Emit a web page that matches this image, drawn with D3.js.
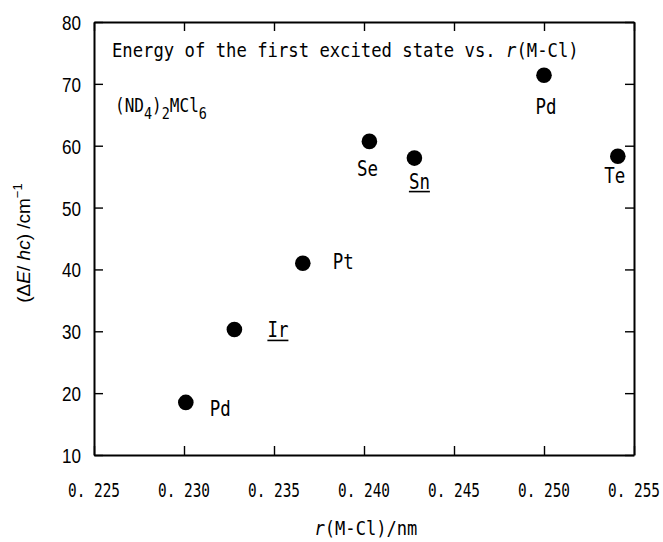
<!DOCTYPE html>
<html>
<head>
<meta charset="utf-8">
<script src="https://cdn.jsdelivr.net/npm/d3@7/dist/d3.min.js"></script>
<style>
  html, body { margin: 0; padding: 0; background: #fff; }
  svg { display: block; }
  .gothic { font-family: "DejaVu Sans Mono", monospace; fill: #000; }
  .arial { font-family: "Liberation Sans", Arial, sans-serif; fill: #000; }
  .axis path, .axis line { stroke: #000; }
</style>
</head>
<body>
<svg id="chart" width="663" height="542"></svg>
<script>
// Metal–chlorine distance vs. first excited-state energy for (ND4)2MCl6 salts
const metals     = ["Pd", "Ir", "Pt", "Se", "Sn", "Te", "Pd"];
const rMCl       = [0.2301, 0.2328, 0.2366, 0.2403, 0.2428, 0.2541, 0.2500];   // nm
const energy     = [18.5, 30.3, 41.0, 60.7, 58.0, 58.3, 71.4];                 // cm^-1
const underlined = [false, true, false, false, true, false, false];

const xTicks = [0.225, 0.230, 0.235, 0.240, 0.245, 0.250, 0.255];
const xTickLabels = ["0. 225", "0. 230", "0. 235", "0. 240", "0. 245", "0. 250", "0. 255"];
const yTicks = [10, 20, 30, 40, 50, 60, 70, 80];

// label placement relative to each marker: [dx, dy, anchor]
const labelPlacement = [
  [24, 13.5, "start"],
  [33, 8, "start"],
  [30, 5.5, "start"],
  [-2, 35, "middle"],
  [5, 30.5, "middle"],
  [-3, 27, "middle"],
  [2, 39, "middle"]
];

const svg = d3.select("#chart");
const frame = { left: 94, right: 634, top: 22, bottom: 455 };

const x = d3.scaleLinear().domain([0.225, 0.255]).range([frame.left, frame.right]);
const y = d3.scaleLinear().domain([10, 80]).range([frame.bottom, frame.top]);

const tick = 9;

function styleAxis(g) {
  g.select(".domain").attr("stroke-width", 2);
  g.selectAll(".tick line").attr("stroke-width", 1.4);
  g.selectAll(".tick text").remove();
}

svg.append("g").attr("class", "axis")
  .attr("transform", `translate(0,${frame.bottom})`)
  .call(d3.axisBottom(x).tickValues(xTicks).tickSize(-tick).tickSizeOuter(0).tickFormat(""))
  .call(styleAxis);
svg.append("g").attr("class", "axis")
  .attr("transform", `translate(0,${frame.top})`)
  .call(d3.axisTop(x).tickValues(xTicks).tickSize(-tick).tickSizeOuter(0).tickFormat(""))
  .call(styleAxis);
svg.append("g").attr("class", "axis")
  .attr("transform", `translate(${frame.left},0)`)
  .call(d3.axisLeft(y).tickValues(yTicks).tickSize(-tick).tickSizeOuter(0).tickFormat(""))
  .call(styleAxis);
svg.append("g").attr("class", "axis")
  .attr("transform", `translate(${frame.right},0)`)
  .call(d3.axisRight(y).tickValues(yTicks).tickSize(-tick).tickSizeOuter(0).tickFormat(""))
  .call(styleAxis);

// horizontally condensed text block: built at natural width, then squeezed to `width`
function condensed(px, py, width, anchor, size, build) {
  const g = svg.append("g");
  const t = g.append("text").attr("class", "gothic").attr("font-size", size);
  build(t);
  const w = t.node().getComputedTextLength();
  const k = width / w;
  const x0 = anchor === "middle" ? px - width / 2 : anchor === "end" ? px - width : px;
  g.attr("transform", `translate(${x0},${py}) scale(${k},1)`);
  return g;
}

// x tick labels
xTicks.forEach((d, i) => {
  condensed(x(d), 497, 52, "middle", 20, t => t.text(xTickLabels[i]));
});

// y tick labels
svg.append("g").selectAll("text")
  .data(yTicks)
  .join("text")
  .attr("class", "arial")
  .attr("x", 81)
  .attr("y", d => y(d) + 8)
  .attr("text-anchor", "end")
  .attr("font-size", 20)
  .attr("textLength", 19)
  .attr("lengthAdjust", "spacingAndGlyphs")
  .text(d => d);

// x axis title
condensed(366, 535, 103, "middle", 19, t => {
  t.append("tspan").attr("font-style", "italic").text("r");
  t.append("tspan").text("(M-Cl)/nm");
});

// y axis title
const yt = svg.append("text")
  .attr("class", "arial")
  .attr("transform", "translate(30,243) rotate(-90)")
  .attr("text-anchor", "middle")
  .attr("font-size", 19);
yt.append("tspan").text("(Δ");
yt.append("tspan").attr("font-style", "italic").text("E");
yt.append("tspan").text("/ ");
yt.append("tspan").attr("font-style", "italic").text("hc");
yt.append("tspan").text(") /cm");
yt.append("tspan").attr("font-size", 13).attr("dy", -8).text("−1");

// chart annotation
condensed(112, 57, 467, "start", 19, t => {
  t.append("tspan").text("Energy of the first excited state vs. ");
  t.append("tspan").attr("font-style", "italic").text("r");
  t.append("tspan").text("(M-Cl)");
});

// compound formula (ND4)2MCl6
condensed(115, 112, 92, "start", 19, t => {
  t.append("tspan").text("(ND");
  t.append("tspan").attr("font-size", 16).attr("dy", 7).text("4");
  t.append("tspan").attr("dy", -7).text(")");
  t.append("tspan").attr("font-size", 16).attr("dy", 7).text("2");
  t.append("tspan").attr("dy", -7).text("MCl");
  t.append("tspan").attr("font-size", 16).attr("dy", 7).text("6");
});

// markers
const pts = metals.map((m, i) => ({ m, r: rMCl[i], e: energy[i], u: underlined[i], p: labelPlacement[i] }));

svg.append("g").selectAll("circle")
  .data(pts)
  .join("circle")
  .attr("cx", d => x(d.r))
  .attr("cy", d => y(d.e))
  .attr("r", 7.8)
  .attr("fill", "#000");

// marker labels
const labels = svg.append("g").selectAll("text")
  .data(pts)
  .join("text")
  .attr("class", "gothic")
  .attr("x", d => x(d.r) + d.p[0])
  .attr("y", d => y(d.e) + d.p[1])
  .attr("text-anchor", d => d.p[2])
  .attr("font-size", 21)
  .attr("textLength", 21)
  .attr("lengthAdjust", "spacingAndGlyphs")
  .text(d => d.m);

labels.filter(d => d.u).each(function (d) {
  const b = this.getBBox();
  svg.append("line")
    .attr("x1", b.x).attr("x2", b.x + b.width)
    .attr("y1", y(d.e) + d.p[1] + 3).attr("y2", y(d.e) + d.p[1] + 3)
    .attr("stroke", "#000").attr("stroke-width", 1.6);
});
</script>
</body>
</html>
